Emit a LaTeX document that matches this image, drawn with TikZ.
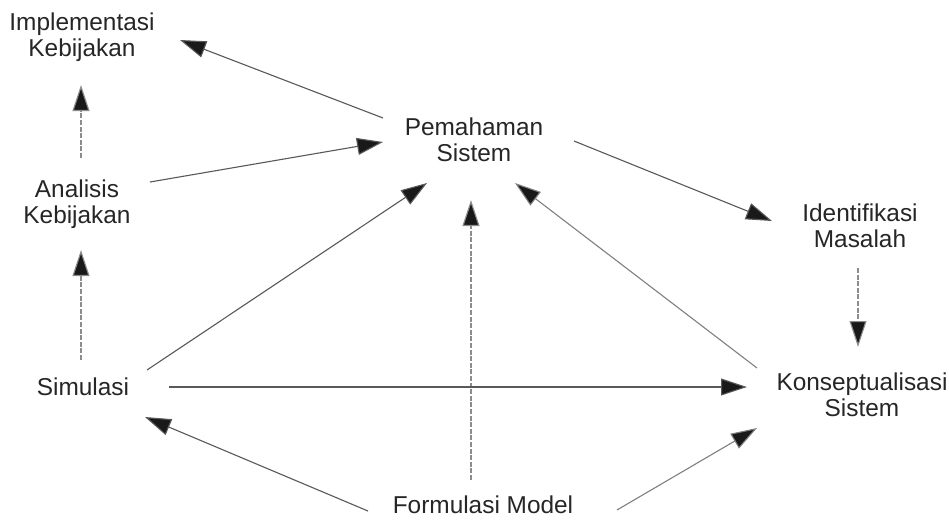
\documentclass[tikz,border=0pt]{standalone}
\usepackage{fontspec}
\setmainfont{Liberation Sans}
\usetikzlibrary{arrows.meta,calc}
\begin{document}
\begin{tikzpicture}[x=0.5pt,y=-0.5pt,
  lbl/.style={align=center,text=black!85,font=\fontsize{12.2}{13}\selectfont,inner sep=0pt},
  arr/.style={draw=black!65,line width=0.55pt,-{Triangle[length=13pt,width=8.5pt,fill=black!90]}},
  faint/.style={arr,draw=black!45,dash pattern=on 2.5pt off 0.8pt}]
\useasboundingbox[fill=white] (0,0) rectangle (949,521);

% concepts
\node[lbl] (imp) at (82,37)  {Implementasi\\Kebijakan};
\node[lbl] (ana) at (77,204) {Analisis\\Kebijakan};
\node[lbl] (pem) at (474,140) {Pemahaman\\Sistem};
\node[lbl] (idn) at (860,226) {Identifikasi\\Masalah};
\node[lbl] (sim) at (83,387) {Simulasi};
\node[lbl] (kon) at (862,395) {Konseptualisasi\\Sistem};
\node[lbl] (for) at (483,505) {Formulasi Model};

% links
\draw[arr]   ($(pem)+(-91,-22)$) -- ($(imp)+(98,3)$);
\draw[arr]   ($(ana)+(73,-22)$)  -- ($(pem)+(-91,2)$);
\draw[faint] ($(ana)+(4,-46)$)   -- ($(imp)+(-1,48)$);
\draw[faint] ($(sim)+(-2,-27)$)  -- ($(ana)+(4,46)$);
\draw[arr]   ($(sim)+(64,-17)$)  -- ($(pem)+(-47,43)$);
\draw[faint] ($(for)+(-12,-25)$) -- ($(pem)+(-3,60)$);
\draw[arr,draw=black!50] ($(kon)+(-105,-27)$) -- ($(pem)+(41,43)$);
\draw[arr]   ($(pem)+(100,1)$)   -- ($(idn)+(-88,-5)$);
\draw[faint] ($(idn)+(-2,42)$)   -- ($(kon)+(-4,-48)$);
\draw[arr]   ($(sim)+(86,0)$)    -- ($(kon)+(-115,-8)$);
\draw[arr]   ($(for)+(-115,6)$)  -- ($(sim)+(62,30)$);
\draw[arr,draw=black!50] ($(for)+(134,5)$) -- ($(kon)+(-105,33)$);
\end{tikzpicture}
\end{document}
